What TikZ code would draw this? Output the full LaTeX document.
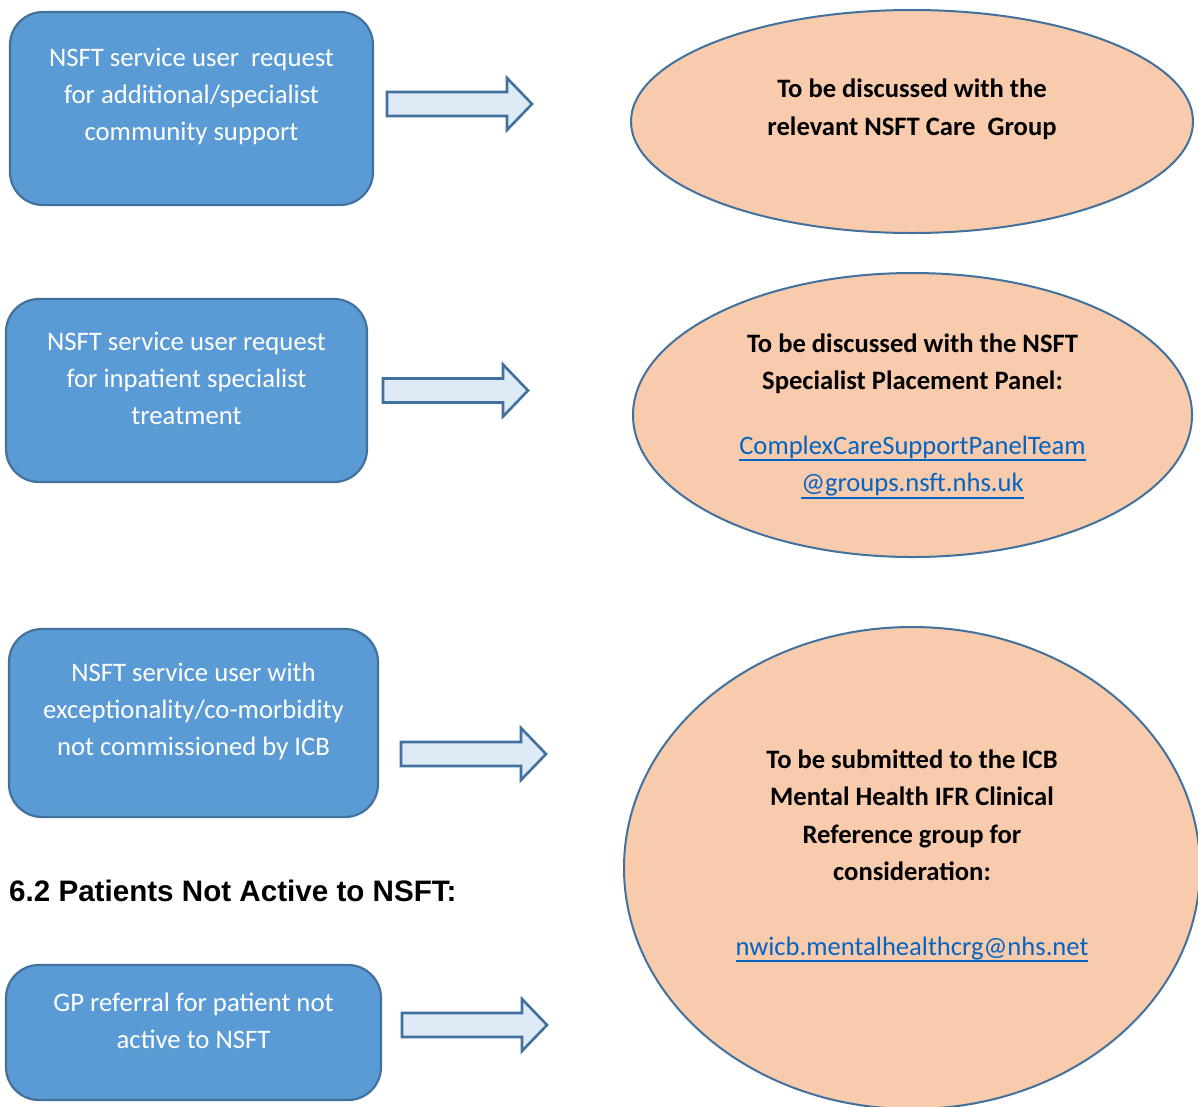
\documentclass[tikz,border=0pt]{standalone}
\usepackage{fontspec}
\setmainfont{Carlito}
\newfontfamily\headfont{Liberation Sans}
\usetikzlibrary{shapes.geometric}

\definecolor{boxfill}{HTML}{5B9BD5}
\definecolor{boxline}{HTML}{41719C}
\definecolor{arrfill}{HTML}{DEEBF7}
\definecolor{ellfill}{HTML}{F8CBAD}
\definecolor{linkblue}{HTML}{0563C1}

\tikzset{
  reqbox/.style={draw=boxline, fill=boxfill, line width=2.2pt,
    rounded corners=33pt, inner sep=0pt},
  reqtext/.style={text=white, align=center, inner sep=0pt,
    font=\fontsize{26.7}{37}\selectfont},
  outcome/.style={ellipse, draw=boxline, fill=ellfill, line width=2pt,
    inner sep=0pt},
  outtext/.style={text=black, align=center, inner sep=0pt,
    font=\fontsize{26.6}{37.5}\selectfont\bfseries},
  fatarrow/.style={draw=boxline, fill=arrfill, line width=2.6pt,
    line join=miter}
}
\newcommand{\blockarrow}[2]{%
  \draw[fatarrow] (#1,#2) ++(0,-12) -- ++(120,0) -- ++(0,-14) -- ++(25,26)
    -- ++(-25,26) -- ++(0,-14) -- ++(-120,0) -- cycle;}
\newsavebox{\linkbox}
\newcommand{\maillink}[1]{\textcolor{linkblue}{\mdseries
  \sbox{\linkbox}{#1}\rlap{\rule[-7pt]{\wd\linkbox}{2pt}}\usebox{\linkbox}}}

\begin{document}
\begin{tikzpicture}[x=1pt,y=-1pt]
\useasboundingbox (0,0) rectangle (1198,1106);
\fill[white] (0,0) rectangle (1198,1106);
\clip (0,0) rectangle (1198,1106);

% requests
\node[reqbox, minimum width=363pt, minimum height=193pt] (req1) at (191.5,108.5) {};
\node[reqtext] (req1t) at (191.5,96) {NSFT service user\ \ request\\for additional/specialist\\community support};
\node[reqbox, minimum width=361pt, minimum height=183pt] (req2) at (186.5,390.5) {};
\node[reqtext] (req2t) at (186.5,378) {NSFT service user request\\for inpatient specialist\\treatment};
\node[reqbox, minimum width=369pt, minimum height=188pt] (req3) at (193.5,723) {};
\node[reqtext] (req3t) at (193.5,711) {NSFT service user with\\exceptionality/co-morbidity\\not commissioned by ICB};
\node[reqbox, minimum width=375pt, minimum height=135pt] (req4) at (193.5,1032.5) {};
\node[reqtext] (req4t) at (193.5,1020.5) {GP referral for patient not\\active to NSFT};

\node[anchor=base west, inner sep=0pt, font=\headfont\bfseries\fontsize{29.6}{34}\selectfont]
  (head) at (9,901) {6.2 Patients Not Active to NSFT:};

% outcomes
\node[outcome, minimum width=562pt, minimum height=223pt] (out1) at (912,121.5) {};
\node[outtext] (out1t) at (912,109.5) {To be discussed with the\\relevant NSFT Care\ \ Group};
\node[outcome, minimum width=559pt, minimum height=284pt] (out2) at (912.5,415) {};
\node[outtext] (out2t) at (912.5,416) {To be discussed with the NSFT\\Specialist Placement Panel:\\[27pt]
  \maillink{ComplexCareSupportPanelTeam}\\\maillink{@groups.nsft.nhs.uk}};
\node[outcome, minimum width=576pt, minimum height=482pt] (out3) at (912,868) {};
\node[outtext] (out3t) at (912,856) {To be submitted to the ICB\\Mental Health IFR Clinical\\Reference group for\\consideration:\\[37pt]
  \maillink{nwicb.mentalhealthcrg@nhs.net}};

% arrows
\blockarrow{387}{104}
\blockarrow{383}{390.5}
\blockarrow{401}{754}
\blockarrow{402}{1025}
\end{tikzpicture}
\end{document}
